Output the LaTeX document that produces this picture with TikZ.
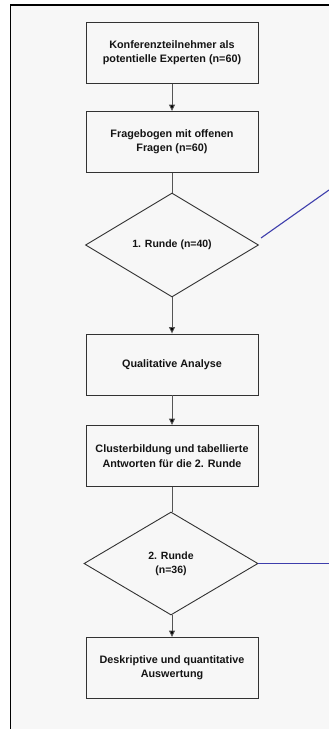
\documentclass[tikz,border=0pt]{standalone}
\usepackage{fontspec}
\setmainfont{Liberation Sans}
\usetikzlibrary{shapes.geometric,arrows.meta}
\definecolor{bgray}{RGB}{247,247,247}
\definecolor{edgegray}{RGB}{50,50,50}
\definecolor{linegray}{RGB}{85,85,85}
\definecolor{bluel}{RGB}{62,62,172}
\definecolor{txt}{RGB}{20,20,20}
\tikzset{
  stepbox/.style={draw=edgegray, line width=0.9pt, fill=bgray, rectangle,
    minimum width=172pt, minimum height=61pt, inner sep=0pt, align=center,
    text=txt, font=\bfseries\fontsize{10.8}{14.3}\selectfont},
  decbox/.style={draw=edgegray, line width=0.9pt, fill=bgray, diamond, aspect=1.65,
    inner sep=0pt, align=center, text=txt,
    font=\bfseries\fontsize{10.5}{14}\selectfont},
  conn/.style={draw=linegray, line width=0.9pt},
  arr/.style={conn, -{Triangle[width=6pt,length=6.5pt,fill=black]}},
  blueline/.style={draw=bluel, line width=1.1pt}
}
\begin{document}
\begin{tikzpicture}[x=1pt,y=-1pt]
\useasboundingbox (0,0) rectangle (329,729);
\fill[white] (0,0) rectangle (329,729);
\fill[bgray] (10.5,5) rectangle (329,729);
\draw[black, line width=1.3pt] (10.5,729) -- (10.5,5) -- (329,5);

\node[stepbox] (b1) at (172,53) {Konferenzteilnehmer als\\potentielle Experten (n=60)};
\node[stepbox] (b2) at (172,142) {Fragebogen mit offenen\\Fragen (n=60)};
\node[decbox, minimum width=173pt, minimum height=104pt] (d1) at (172,245) {1. Runde (n=40)};
\node[stepbox] (b3) at (172,364.5) {Qualitative Analyse};
\node[stepbox] (b4) at (172,456) {Clusterbildung und tabellierte\\Antworten für die 2. Runde};
\node[decbox, minimum width=174pt, minimum height=103pt] (d2) at (171,563.5) {2. Runde\\(n=36)};
\node[stepbox] (b5) at (172,668) {Deskriptive und quantitative\\Auswertung};

\draw[arr] (b1) -- (b2);
\draw[conn] (b2) -- (d1);
\draw[arr] (d1) -- (b3);
\draw[arr] (b3) -- (b4);
\draw[conn] (b4.south) -- (b4.south |- d2.north);
\draw[arr] (d2.south -| b5.north) -- (b5);

\coordinate (s1) at (261,238);
\coordinate (e1) at (329,190);
\coordinate (e2) at (329,563.5);
\draw[blueline] (s1) -- (e1);
\draw[blueline] (d2.east) -- (e2);
\end{tikzpicture}
\end{document}
